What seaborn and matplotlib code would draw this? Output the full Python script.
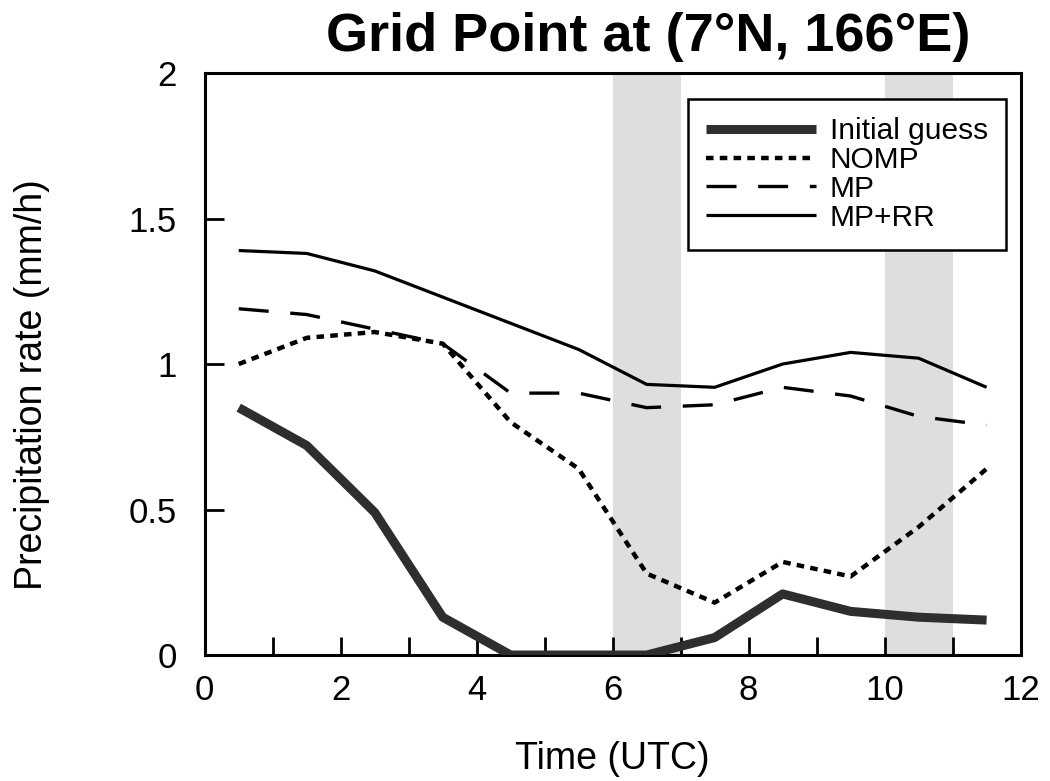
import matplotlib
matplotlib.use("Agg")
import matplotlib.pyplot as plt
import seaborn as sns
import pandas as pd
import numpy as np
from matplotlib.ticker import FuncFormatter, MultipleLocator

# ---- data ----
time = [0.5, 1.5, 2.5, 3.5, 4.5, 5.5, 6.5, 7.5, 8.5, 9.5, 10.5, 11.5]
initial_guess = [0.85, 0.72, 0.49, 0.13, 0.0, 0.0, 0.0, 0.06, 0.21, 0.15, 0.13, 0.12]
nomp = [1.00, 1.09, 1.11, 1.07, 0.80, 0.64, 0.28, 0.18, 0.32, 0.27, 0.44, 0.64]
mp = [1.19, 1.17, 1.12, 1.07, 0.90, 0.90, 0.85, 0.86, 0.92, 0.89, 0.82, 0.79]
mp_rr = [1.39, 1.38, 1.32, 1.23, 1.14, 1.05, 0.93, 0.92, 1.00, 1.04, 1.02, 0.92]
series_names = ["Initial guess", "NOMP", "MP", "MP+RR"]
shaded_spans = [(6, 7), (10, 11)]
x_major_ticks = [0, 2, 4, 6, 8, 10, 12]
y_ticks = [0, 0.5, 1, 1.5, 2]

sns.set_style("ticks")
plt.rcParams["font.family"] = ["Liberation Sans", "DejaVu Sans"]
plt.rcParams["text.color"] = "black"
plt.rcParams["axes.labelcolor"] = "black"
plt.rcParams["xtick.color"] = "black"
plt.rcParams["ytick.color"] = "black"

fig = plt.figure(figsize=(10.5, 7.81), dpi=100)
ax = fig.add_axes([0.195, 0.1613, 0.777, 0.7452])

for a, b in shaded_spans:
    ax.axvspan(a, b, color="#dedede", zorder=0, lw=0)

df = pd.DataFrame({"time": time, "Initial guess": initial_guess,
                   "NOMP": nomp, "MP": mp, "MP+RR": mp_rr})

styles = {
    "Initial guess": dict(color="#2e2e2e", linewidth=6.5, linestyle="-"),
    "NOMP": dict(color="black", linewidth=3.2, linestyle=(0, (1.7, 1.4))),
    "MP": dict(color="black", linewidth=2.4, linestyle=(0, (9, 6.5))),
    "MP+RR": dict(color="black", linewidth=2.3, linestyle="-"),
}
for name in series_names:
    sns.lineplot(data=df, x="time", y=name, ax=ax, label=name,
                 solid_capstyle="butt", dash_capstyle="butt", zorder=3,
                 **styles[name])

ax.set_xlim(0, 12)
ax.set_ylim(0, 2)
ax.set_xticks(x_major_ticks)
ax.xaxis.set_minor_locator(MultipleLocator(1))
ax.set_yticks(y_ticks)
ax.yaxis.set_major_formatter(FuncFormatter(lambda v, p: f"{v:g}"))

ax.tick_params(axis="x", which="both", direction="in", length=13, width=2,
               labelsize=25, pad=14, top=False, colors="black")
ax.tick_params(axis="y", which="both", direction="in", length=14, width=2,
               labelsize=25, pad=20, right=False, colors="black")
for s in ax.spines.values():
    s.set_linewidth(2.2)
    s.set_color("black")
    s.set_visible(True)

ax.set_xlabel("Time (UTC)", fontsize=27, labelpad=24)
ax.set_ylabel("Precipitation rate (mm/h)", fontsize=27)
ax.yaxis.set_label_coords(-0.19, 0.464)
fig.text(0.617, 0.952, "Grid Point at (7°N, 166°E)", fontsize=39,
         fontweight="bold", ha="center", va="center", color="black")

leg = ax.legend(loc="upper right", bbox_to_anchor=(0.982, 0.955),
                borderaxespad=0, fontsize=21.5, handlelength=3.7,
                handletextpad=0.45, labelspacing=0.03, frameon=True,
                fancybox=False, borderpad=0.6)
leg.get_frame().set_edgecolor("black")
leg.get_frame().set_linewidth(1.8)
leg.get_frame().set_alpha(1)
leg.set_zorder(5)
for t in leg.get_texts():
    t.set_color("black")

fig.savefig("out.png", dpi=100)
